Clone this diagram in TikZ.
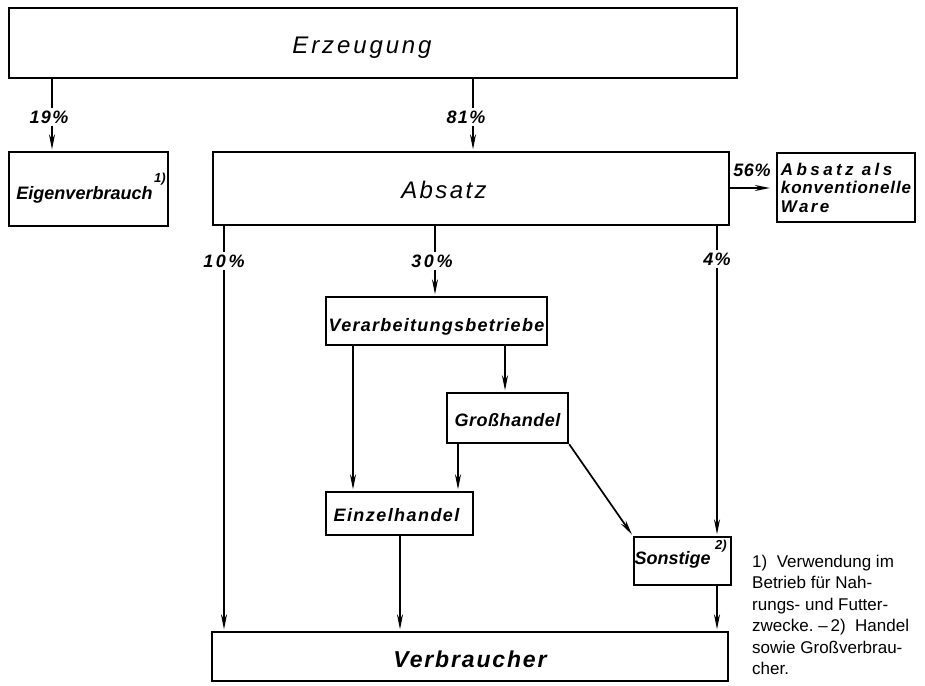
\documentclass[tikz,border=0pt]{standalone}
\usepackage{fontspec}
\setmainfont{Liberation Sans}
\usetikzlibrary{arrows.meta}
\newcommand{\LS}[1]{\addfontfeatures{LetterSpace=#1}}
\newcommand{\low}[2]{\raisebox{-#1}[0pt][0pt]{#2}}
\begin{document}
\begin{tikzpicture}[x=1pt,y=-1pt,
  box/.style={draw, line width=2.4pt, inner sep=0pt, align=center},
  conn/.style={line width=1.7pt},
  arr/.style={conn, -{Stealth[length=15pt,width=6pt]}, shorten >=1.5pt},
  bi/.style={font=\fontsize{18}{20}\selectfont\bfseries\itshape},
  pct/.style={font=\fontsize{18}{20}\selectfont\bfseries\itshape, inner sep=2pt},
  sup/.style={font=\fontsize{13}{14}\selectfont\bfseries\itshape, inner sep=0pt},
]
\useasboundingbox (0,0) rectangle (925,685);

% boxes
\node[box, minimum width=728pt, minimum height=70pt,
      font=\fontsize{24}{26}\selectfont\itshape] (erz) at (373,43)
      {\hspace*{-22pt}\low{10pt}{\LS{12}Erzeugung}};
\node[box, minimum width=159pt, minimum height=74pt, bi] (eig) at (88.5,189)
      {\hspace*{-8pt}\low{10pt}{Eigenverbrauch}};
\node[box, minimum width=516pt, minimum height=73pt,
      font=\fontsize{24}{26}\selectfont\itshape] (abs) at (471,188.5)
      {\hspace*{-54pt}\low{10pt}{\LS{10}Absatz}};
\node[box, minimum width=138pt, minimum height=69pt, align=left,
      font=\fontsize{17}{18.5}\selectfont\bfseries\itshape] (ware) at (846,187.5)
      {{\LS{20}Absatz als}\\{\LS{5}konventionelle}\\{\LS{14}Ware}};
\node[box, minimum width=221pt, minimum height=48pt, bi] (ver) at (436.5,321)
      {\low{10pt}{\LS{7}Verarbeitungsbetriebe}};
\node[box, minimum width=121pt, minimum height=50pt, bi] (gro) at (507.5,418)
      {\low{8.5pt}{\LS{3}Großhandel}};
\node[box, minimum width=147pt, minimum height=43pt, bi] (ein) at (399.5,513.5)
      {\hspace*{-6pt}\low{7.5pt}{\LS{8}Einzelhandel}};
\node[box, minimum width=97pt, minimum height=48pt, bi] (son) at (682.5,561)
      {\hspace*{-20pt}\low{3.5pt}{Sonstige}};
\node[box, minimum width=516pt, minimum height=49pt,
      font=\fontsize{23}{25}\selectfont\bfseries\itshape] (vbr) at (470,656.5)
      {\low{10.5pt}{\LS{8}Verbraucher}};

% footnote marks
\node[sup] (s1) at (160,179) {1)};
\node[sup] (s2) at (721,546) {2)};

% percentage labels
\node[pct] (p19) at (49,117) {\LS{8}19\%};
\node[pct] (p81) at (466,117) {\LS{8}81\%};
\node[pct] (p10) at (224,261) {\LS{14}10\%};
\node[pct] (p30) at (432,261) {\LS{14}30\%};
\node[pct] (p4)  at (717,259) {\LS{8}4\%};
\node[pct, inner sep=0pt] (p56) at (752,170) {\LS{3}56\%};

% guide coordinates for the vertical connectors
\coordinate (x19) at (52,0);
\coordinate (x81) at (473,0);
\coordinate (x10) at (224,0);
\coordinate (x30) at (435,0);
\coordinate (x4)  at (717,0);
\coordinate (xve) at (353,0);
\coordinate (xvg) at (505,0);
\coordinate (xge) at (458,0);
\coordinate (xev) at (400,0);
\coordinate (y56) at (0,188);

% connectors
\draw[conn] (x19 |- erz.south) -- (x19 |- p19.north);
\draw[arr]  (x19 |- p19.south) -- (x19 |- eig.north);
\draw[conn] (x81 |- erz.south) -- (x81 |- p81.north);
\draw[arr]  (x81 |- p81.south) -- (x81 |- abs.north);

\draw[arr, shorten >=6pt] (abs.east |- y56) -- (ware.west |- y56);

\draw[conn] (x10 |- abs.south) -- (x10 |- p10.north);
\draw[arr]  (x10 |- p10.south) -- (x10 |- vbr.north);
\draw[conn] (x30 |- abs.south) -- (x30 |- p30.north);
\draw[arr]  (x30 |- p30.south) -- (x30 |- ver.north);
\draw[conn] (x4 |- abs.south) -- (x4 |- p4.north);
\draw[arr]  (x4 |- p4.south) -- (x4 |- son.north);

\draw[arr] (xve |- ver.south) -- (xve |- ein.north);
\draw[arr] (xvg |- ver.south) -- (xvg |- gro.north);
\draw[arr] (xge |- gro.south) -- (xge |- ein.north);
\draw[arr] (gro.south east) -- (son.north west);
\draw[arr] (xev |- ein.south) -- (xev |- vbr.north);
\draw[arr] (x4 |- son.south) -- (x4 |- vbr.north);

% footnote text
\node[anchor=north west, align=left, inner sep=0pt,
      font=\fontsize{17}{21.4}\selectfont] (fn) at (752,555)
      {1)\ \ Verwendung im\\Betrieb für Nah-\\rungs- und Futter-\\zwecke.\ --\,2)\ \ Handel\\sowie Großverbrau-\\cher.};
\end{tikzpicture}
\end{document}
